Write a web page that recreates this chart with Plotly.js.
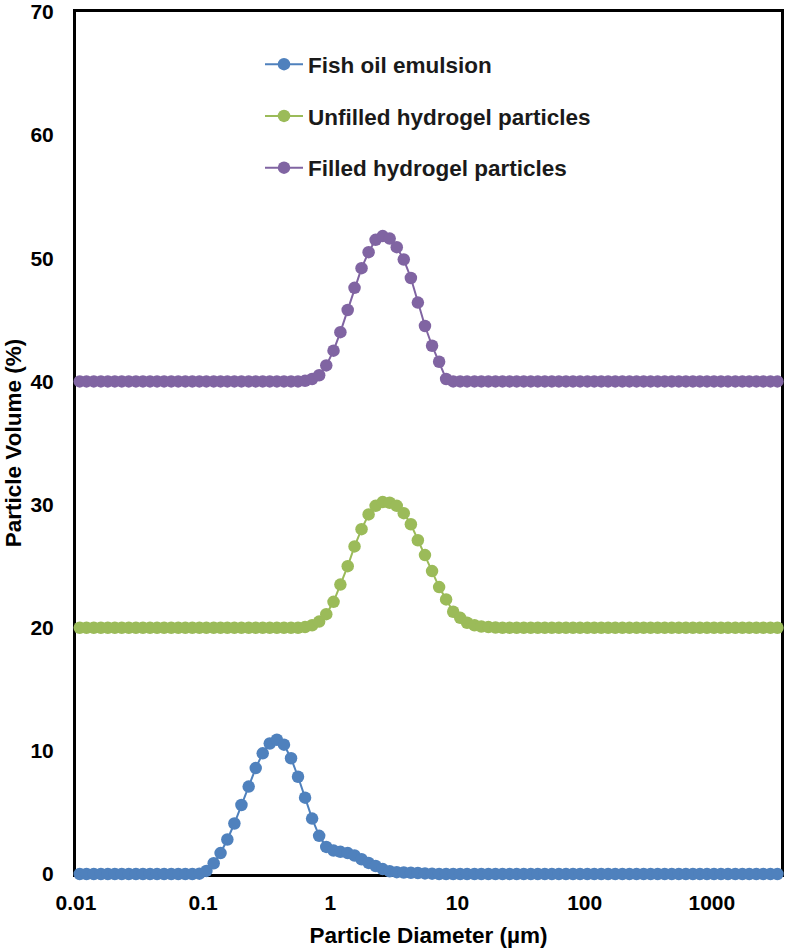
<!DOCTYPE html>
<html>
<head>
<meta charset="utf-8">
<script src="https://cdn.plot.ly/plotly-3.0.1.min.js"></script>
<style>
  html, body { margin: 0; padding: 0; background: #ffffff; }
  #chart { width: 790px; height: 951px; }
</style>
</head>
<body>
<div id="chart"></div>
<script>
// Size classes (µm): centres of the 100 logarithmic diffraction bins, 0.01–3500 µm
const diameter = [
  0.0107, 0.0121, 0.0138, 0.0157, 0.0178, 0.0202, 0.0229, 0.0260, 0.0296, 0.0336,
  0.0382, 0.0434, 0.0493, 0.0561, 0.0637, 0.0724, 0.0822, 0.0934, 0.106, 0.121,
  0.137, 0.155, 0.176, 0.200, 0.228, 0.259, 0.294, 0.334, 0.380, 0.432,
  0.491, 0.557, 0.633, 0.719, 0.817, 0.929, 1.06, 1.20, 1.37, 1.55,
  1.76, 2.00, 2.27, 2.58, 2.93, 3.33, 3.78, 4.30, 4.88, 5.55,
  6.31, 7.17, 8.14, 9.25, 10.5, 11.9, 13.6, 15.4, 17.5, 19.9,
  22.6, 25.7, 29.2, 33.2, 37.7, 42.8, 48.6, 55.2, 62.7, 71.3,
  81.0, 92.0, 105, 119, 135, 153, 174, 198, 225, 256,
  291, 330, 375, 426, 484, 550, 625, 710, 806, 916,
  1040, 1180, 1340, 1530, 1740, 1970, 2240, 2540, 2890, 3280
];

// Plotted particle volume (%) per size class; the hydrogel curves sit on baselines of 20 and 40
const fishOilEmulsion = [
  0, 0, 0, 0, 0, 0, 0, 0, 0, 0,
  0, 0, 0, 0, 0, 0, 0, 0.03, 0.25, 0.87,
  1.7, 2.8, 4.1, 5.6, 7.1, 8.6, 9.8, 10.6, 10.9, 10.5,
  9.4, 7.9, 6.2, 4.5, 3.1, 2.2, 1.9, 1.8, 1.7, 1.5,
  1.2, 0.9, 0.65, 0.4, 0.22, 0.15, 0.12, 0.1, 0.08, 0.05,
  0.03, 0, 0, 0, 0, 0, 0, 0, 0, 0,
  0, 0, 0, 0, 0, 0, 0, 0, 0, 0,
  0, 0, 0, 0, 0, 0, 0, 0, 0, 0,
  0, 0, 0, 0, 0, 0, 0, 0, 0, 0,
  0, 0, 0, 0, 0, 0, 0, 0, 0, 0
];

const unfilledHydrogel = [
  20, 20, 20, 20, 20, 20, 20, 20, 20, 20,
  20, 20, 20, 20, 20, 20, 20, 20, 20, 20,
  20, 20, 20, 20, 20, 20, 20, 20, 20, 20,
  20, 20, 20.05, 20.2, 20.5, 21.1, 22.1, 23.5, 25.0, 26.6,
  28.0, 29.2, 29.9, 30.2, 30.15, 29.9, 29.3, 28.4, 27.1, 25.9,
  24.6, 23.3, 22.3, 21.3, 20.8, 20.4, 20.2, 20.1, 20.05, 20.02,
  20, 20, 20, 20, 20, 20, 20, 20, 20, 20,
  20, 20, 20, 20, 20, 20, 20, 20, 20, 20,
  20, 20, 20, 20, 20, 20, 20, 20, 20, 20,
  20, 20, 20, 20, 20, 20, 20, 20, 20, 20
];

const filledHydrogel = [
  40, 40, 40, 40, 40, 40, 40, 40, 40, 40,
  40, 40, 40, 40, 40, 40, 40, 40, 40, 40,
  40, 40, 40, 40, 40, 40, 40, 40, 40, 40,
  40, 40, 40.05, 40.2, 40.5, 41.3, 42.5, 44.0, 45.8, 47.6,
  49.2, 50.5, 51.5, 51.8, 51.6, 50.9, 49.9, 48.4, 46.4, 44.5,
  42.9, 41.6, 40.2, 40, 40, 40, 40, 40, 40, 40,
  40, 40, 40, 40, 40, 40, 40, 40, 40, 40,
  40, 40, 40, 40, 40, 40, 40, 40, 40, 40,
  40, 40, 40, 40, 40, 40, 40, 40, 40, 40,
  40, 40, 40, 40, 40, 40, 40, 40, 40, 40
];

const seriesNames = ['Fish oil emulsion', 'Unfilled hydrogel particles', 'Filled hydrogel particles'];
const seriesColors = ['#4F81BD', '#9BBB59', '#8064A2'];
const seriesValues = [fishOilEmulsion, unfilledHydrogel, filledHydrogel];

const xTickValues = [0.01, 0.1, 1, 10, 100, 1000];
const xTickLabels = ['0.01', '0.1', '1', '10', '100', '1000'];
const yTickValues = [0, 10, 20, 30, 40, 50, 60, 70];

const FONT = 'Liberation Sans, Arial, Helvetica, sans-serif';

const traces = seriesValues.map((vals, k) => ({
  type: 'scatter',
  mode: 'lines+markers',
  name: seriesNames[k],
  legendgroup: 'g' + k,
  x: diameter,
  y: vals,
  cliponaxis: false,
  line: { color: seriesColors[k], width: 2 },
  marker: { color: seriesColors[k], size: 12.5, line: { width: 0 } }
}));

const layout = {
  width: 790,
  height: 951,
  margin: { l: 76, r: 9, t: 12, b: 77, pad: 0 },
  paper_bgcolor: '#ffffff',
  plot_bgcolor: '#ffffff',
  font: { family: FONT, color: '#000000', size: 21, weight: 700 },
  showlegend: true,
  legend: {
    x: 0.261, y: 0.964, xanchor: 'left', yanchor: 'top',
    bgcolor: 'rgba(0,0,0,0)',
    traceorder: 'grouped',
    tracegroupgap: 19.5,
    itemwidth: 38,
    font: { family: FONT, size: 22.5, weight: 700, color: '#1a1a1a' }
  },
  xaxis: {
    type: 'log',
    range: [Math.log10(0.01), Math.log10(3500)],
    tickmode: 'array',
    tickvals: xTickValues,
    ticktext: xTickLabels,
    ticks: '',
    ticklabelstandoff: 8,
    tickfont: { family: FONT, size: 21, weight: 700, color: '#000000' },
    showgrid: false,
    zeroline: false,
    showline: true,
    linecolor: '#000000',
    linewidth: 3,
    mirror: true,
    layer: 'below traces',
    title: { text: 'Particle Diameter (µm)', standoff: 15,
             font: { family: FONT, size: 22.5, weight: 700, color: '#000000' } }
  },
  yaxis: {
    range: [0, 70],
    tickmode: 'array',
    tickvals: yTickValues,
    ticks: '',
    ticklabelstandoff: 15,
    tickfont: { family: FONT, size: 21, weight: 700, color: '#000000' },
    showgrid: false,
    zeroline: false,
    showline: true,
    linecolor: '#000000',
    linewidth: 3,
    mirror: true,
    layer: 'below traces',
    title: { text: 'Particle Volume (%)', standoff: 3,
             font: { family: FONT, size: 22.5, weight: 700, color: '#000000' } }
  }
};

Plotly.newPlot('chart', traces, layout, { displayModeBar: false, staticPlot: true });
</script>
</body>
</html>
